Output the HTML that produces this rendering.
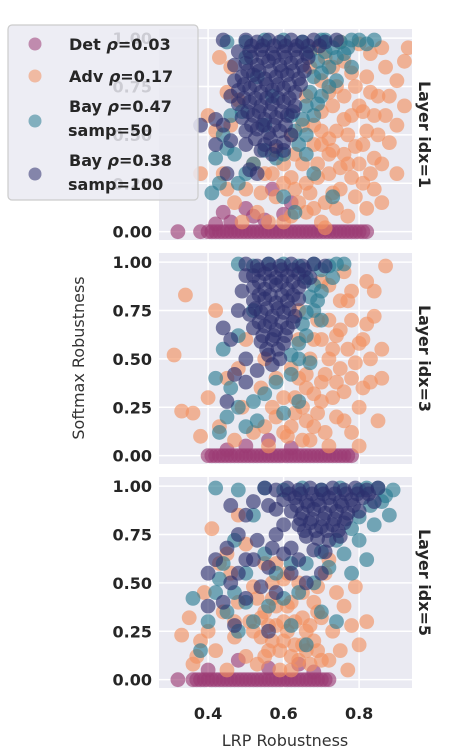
<!DOCTYPE html>
<html><head><meta charset="utf-8">
<style>
html,body{margin:0;padding:0;background:#fff;}
svg{display:block;font-family:"DejaVu Sans","Liberation Sans",sans-serif;}
</style></head>
<body>
<svg id="chart" width="450" height="750" viewBox="0 0 450 750" xmlns="http://www.w3.org/2000/svg">
<defs>
<clipPath id="c0"><rect x="159" y="29" width="253" height="211"/></clipPath>
<clipPath id="c1"><rect x="159" y="253" width="253" height="211"/></clipPath>
<clipPath id="c2"><rect x="159" y="477" width="253" height="211"/></clipPath>
</defs>
<g id="panels"></g>
<text x="285" y="746" font-size="16" text-anchor="middle" fill="#333">LRP Robustness</text>
<text transform="translate(84,358) rotate(-90)" font-size="16" text-anchor="middle" fill="#333">Softmax Robustness</text>
<g id="legend">
<rect x="8" y="25" width="190" height="175" rx="4" fill="#eaeaf2" fill-opacity="0.85" stroke="#cccccc" stroke-width="1.2"/>
<circle cx="35" cy="44" r="6.5" fill="#9b3a74" fill-opacity="0.55"/>
<text x="69" y="50" font-size="16" font-weight="bold" fill="#262626">Det <tspan font-style="italic">ρ</tspan>=0.03</text>
<circle cx="35" cy="76" r="6.5" fill="#f3905f" fill-opacity="0.55"/>
<text x="69" y="82" font-size="16" font-weight="bold" fill="#262626">Adv <tspan font-style="italic">ρ</tspan>=0.17</text>
<circle cx="35" cy="121" r="6.5" fill="#2a7b92" fill-opacity="0.55"/>
<text x="69" y="112" font-size="16" font-weight="bold" fill="#262626">Bay <tspan font-style="italic">ρ</tspan>=0.47</text>
<text x="68" y="136" font-size="16" font-weight="bold" fill="#262626">samp=50</text>
<circle cx="35" cy="174" r="6.5" fill="#2d2f6e" fill-opacity="0.55"/>
<text x="69" y="166" font-size="16" font-weight="bold" fill="#262626">Bay <tspan font-style="italic">ρ</tspan>=0.38</text>
<text x="68" y="190" font-size="16" font-weight="bold" fill="#262626">samp=100</text>
</g>
</svg>
<script>
const panelLabels = ["Layer idx=1","Layer idx=3","Layer idx=5"];
const xTicks = [0.4,0.6,0.8];
const xTickLabels = ["0.4","0.6","0.8"];
const yTicks = [0,0.25,0.5,0.75,1];
const yTickLabels = ["0.00","0.25","0.50","0.75","1.00"];
const seriesNames = ["det","adv","bay50","bay100"];
// Layer 1
const det1 = [0.32,0,0.38,0,0.4,0,0.41,0,0.42,0,0.43,0,0.44,0,0.45,0,0.46,0,0.47,0,0.48,0,0.49,0,0.5,0,0.51,0,0.52,0,0.53,0,0.54,0,0.55,0,0.56,0,0.57,0,0.58,0,0.59,0,0.6,0,0.61,0,0.62,0,0.63,0,0.64,0,0.65,0,0.66,0,0.67,0,0.68,0,0.69,0,0.7,0,0.71,0,0.72,0,0.73,0,0.74,0,0.75,0,0.76,0,0.77,0,0.78,0,0.79,0,0.8,0,0.81,0,0.82,0,0.44,0.1,0.5,0.12,0.52,0.08,0.57,0.22,0.62,0.15,0.46,0.05,0.42,0.04,0.55,0.06,0.6,0.09];
const adv1 = [0.45,0.72,0.48,0.68,0.42,0.52,0.44,0.3,0.47,0.15,0.5,0.22,0.53,0.1,0.55,0.3,0.58,0.18,0.6,0.05,0.62,0.28,0.63,0.4,0.65,0.55,0.66,0.7,0.67,0.85,0.68,0.12,0.69,0.35,0.7,0.62,0.71,0.9,0.72,0.48,0.73,0.2,0.74,0.75,0.75,0.33,0.76,0.58,0.77,0.08,0.78,0.82,0.79,0.44,0.8,0.65,0.81,0.25,0.82,0.52,0.83,0.92,0.84,0.38,0.85,0.7,0.86,0.15,0.87,0.6,0.88,0.46,0.9,0.78,0.92,0.88,0.9,0.55,0.87,0.85,0.64,0.15,0.66,0.25,0.7,0.05,0.72,0.3,0.6,0.35,0.58,0.42,0.56,0.05,0.74,0.12,0.78,0.28,0.82,0.12,0.62,0.5,0.68,0.45,0.76,0.4,0.8,0.35,0.84,0.22,0.86,0.95,0.75,0.98,0.8,0.97,0.7,0.78,0.73,0.65,0.66,0.1,0.52,0.35,0.49,0.05,0.46,0.55,
0.67,0.2,0.69,0.28,0.71,0.15,0.72,0.4,0.74,0.52,0.75,0.22,0.77,0.35,0.78,0.6,0.79,0.18,0.81,0.45,0.83,0.3,0.85,0.5,0.63,0.22,0.65,0.35,0.68,0.55,0.7,0.45,0.73,0.85,0.76,0.7,0.79,0.75,0.82,0.8,0.84,0.6,0.88,0.7,0.9,0.3,0.86,0.35,0.62,0.08,0.71,0.02,0.6,0.25,0.57,0.3,0.54,0.2,0.45,0.22,0.4,0.6,0.43,0.9,0.46,0.85,0.38,0.3,0.7,0.52,0.73,0.42,0.77,0.5,0.81,0.62,0.83,0.72,0.92,0.65,0.93,0.95,0.76,0.88,0.69,0.95,0.72,0.72];
const bay50_1 = [0.45,0.98,0.5,0.98,0.55,0.99,0.6,0.99,0.65,0.98,0.7,0.99,0.75,0.98,0.8,0.99,0.84,0.99,0.72,0.85,0.74,0.78,0.7,0.7,0.68,0.6,0.66,0.5,0.64,0.45,0.6,0.4,0.58,0.38,0.55,0.42,0.52,0.35,0.5,0.3,0.47,0.4,0.44,0.5,0.42,0.38,0.41,0.2,0.43,0.25,0.48,0.25,0.6,0.18,0.63,0.1,0.68,0.3,0.73,0.18,0.78,0.85,0.76,0.92,0.62,0.6,0.57,0.7,0.53,0.8,0.5,0.9,0.49,0.62,0.73,0.95,0.55,0.55,
0.67,0.93,0.69,0.88,0.71,0.93,0.68,0.8,0.7,0.82,0.67,0.72,0.66,0.65,0.69,0.66,0.65,0.58,0.63,0.52,0.71,0.99,0.78,0.99,0.82,0.97,0.74,0.9,0.77,0.95,0.72,0.75,0.66,0.4,0.46,0.6,0.45,0.43];
const bay100_1 = [0.44,0.99,0.5,0.99,0.53,0.98,0.56,0.99,0.59,0.98,0.62,0.99,0.65,0.98,0.68,0.99,0.71,0.98,0.74,0.99,0.51,0.93,0.54,0.94,0.57,0.92,0.6,0.93,0.63,0.94,0.66,0.92,0.5,0.87,0.53,0.86,0.56,0.88,0.59,0.86,0.62,0.87,0.65,0.86,0.49,0.8,0.52,0.81,0.55,0.79,0.58,0.8,0.61,0.81,0.64,0.79,0.48,0.73,0.51,0.74,0.54,0.72,0.57,0.73,0.6,0.74,0.63,0.72,0.48,0.66,0.51,0.67,0.54,0.65,0.57,0.66,0.6,0.67,0.63,0.65,0.49,0.59,0.52,0.6,0.55,0.58,0.58,0.59,0.61,0.6,0.5,0.52,0.53,0.53,0.56,0.51,0.59,0.52,0.62,0.5,0.46,0.47,0.55,0.45,0.6,0.46,0.44,0.55,0.42,0.58,0.51,0.32,0.53,0.3,0.45,0.3,0.42,0.45,0.38,0.55,
0.515,0.96,0.545,0.96,0.575,0.96,0.605,0.96,0.635,0.96,0.665,0.96,0.695,0.96,0.515,0.9,0.545,0.9,0.575,0.9,0.605,0.9,0.635,0.9,0.665,0.9,0.505,0.83,0.535,0.83,0.565,0.83,0.595,0.83,0.625,0.83,0.655,0.83,0.495,0.76,0.525,0.76,0.555,0.76,0.585,0.76,0.615,0.76,0.645,0.76,0.495,0.69,0.525,0.69,0.555,0.69,0.585,0.69,0.615,0.69,0.505,0.62,0.535,0.62,0.565,0.62,0.595,0.62,0.625,0.62,0.515,0.55,0.545,0.55,0.575,0.55,0.605,0.55,0.525,0.48,0.565,0.48,0.6,0.42,0.57,0.4,0.5,0.45,0.47,0.86,0.47,0.78,0.46,0.7,0.48,0.93,0.58,0.44,0.54,0.42];
// Layer 3
const det2 = [0.4,0,0.41,0,0.42,0,0.43,0,0.44,0,0.45,0,0.46,0,0.47,0,0.48,0,0.49,0,0.5,0,0.51,0,0.52,0,0.53,0,0.54,0,0.55,0,0.56,0,0.57,0,0.58,0,0.59,0,0.6,0,0.61,0,0.62,0,0.63,0,0.64,0,0.65,0,0.66,0,0.67,0,0.68,0,0.69,0,0.7,0,0.71,0,0.72,0,0.73,0,0.74,0,0.75,0,0.76,0,0.77,0,0.78,0,0.5,0.05,0.56,0.08,0.62,0.04,0.45,0.03];
const adv2 = [0.31,0.52,0.34,0.83,0.33,0.23,0.36,0.22,0.38,0.1,0.4,0.3,0.42,0.75,0.43,0.15,0.45,0.4,0.47,0.08,0.49,0.25,0.5,0.6,0.52,0.12,0.54,0.35,0.56,0.05,0.58,0.2,0.6,0.3,0.61,0.1,0.62,0.45,0.63,0.22,0.64,0.6,0.65,0.08,0.66,0.35,0.67,0.5,0.68,0.15,0.69,0.7,0.7,0.28,0.71,0.42,0.72,0.05,0.73,0.55,0.74,0.2,0.75,0.65,0.76,0.33,0.77,0.8,0.78,0.12,0.79,0.48,0.8,0.25,0.81,0.6,0.82,0.9,0.83,0.38,0.84,0.72,0.85,0.18,0.86,0.55,0.87,0.98,0.72,0.88,0.76,0.95,0.68,0.6,0.64,0.75,0.7,0.9,0.8,0.05,0.66,0.18,0.58,0.4,0.55,0.5,0.48,0.45,0.74,0.38,0.78,0.7,
0.63,0.3,0.65,0.25,0.66,0.42,0.68,0.32,0.69,0.22,0.7,0.38,0.71,0.12,0.72,0.5,0.73,0.3,0.74,0.62,0.75,0.45,0.76,0.18,0.77,0.55,0.78,0.4,0.8,0.58,0.81,0.35,0.82,0.68,0.83,0.5,0.67,0.08,0.64,0.4,0.62,0.15,0.7,0.6,0.72,0.7,0.75,0.8,0.78,0.85,0.84,0.85,0.86,0.4,0.57,0.25,0.55,0.15,0.6,0.12];
const bay50_2 = [0.48,0.99,0.52,0.98,0.56,0.99,0.6,0.99,0.64,0.98,0.68,0.99,0.72,0.98,0.76,0.99,0.7,0.85,0.68,0.75,0.66,0.62,0.64,0.5,0.62,0.42,0.58,0.38,0.55,0.32,0.52,0.28,0.48,0.25,0.45,0.2,0.43,0.12,0.42,0.4,0.44,0.55,0.46,0.35,0.5,0.15,0.53,0.18,0.6,0.22,0.64,0.28,0.67,0.48,0.7,0.7,0.48,0.62,0.52,0.75,0.73,0.92,
0.66,0.92,0.68,0.88,0.67,0.82,0.66,0.74,0.65,0.68,0.64,0.58,0.62,0.52,0.7,0.96,0.74,0.99,0.69,0.8];
const bay100_2 = [0.5,0.99,0.53,0.98,0.56,0.99,0.59,0.98,0.62,0.99,0.65,0.98,0.68,0.99,0.71,0.98,0.52,0.93,0.55,0.94,0.58,0.92,0.61,0.93,0.64,0.94,0.67,0.92,0.52,0.87,0.55,0.86,0.58,0.88,0.61,0.86,0.64,0.87,0.52,0.8,0.55,0.81,0.58,0.79,0.61,0.8,0.64,0.81,0.51,0.73,0.54,0.74,0.57,0.72,0.6,0.74,0.63,0.72,0.52,0.66,0.55,0.67,0.58,0.65,0.61,0.66,0.54,0.59,0.57,0.6,0.6,0.58,0.56,0.52,0.59,0.5,0.48,0.75,0.46,0.6,0.5,0.5,0.47,0.42,0.53,0.44,0.44,0.66,0.45,0.28,0.5,0.38,
0.535,0.96,0.565,0.96,0.595,0.96,0.625,0.96,0.655,0.96,0.535,0.9,0.565,0.9,0.595,0.9,0.625,0.9,0.655,0.9,0.535,0.83,0.565,0.83,0.595,0.83,0.625,0.83,0.525,0.76,0.555,0.76,0.585,0.76,0.615,0.76,0.535,0.69,0.565,0.69,0.595,0.69,0.625,0.69,0.545,0.62,0.575,0.62,0.605,0.62,0.555,0.55,0.585,0.55,0.57,0.47,0.5,0.93,0.49,0.85];
// Layer 5
const det3 = [0.32,0,0.36,0,0.37,0,0.38,0,0.39,0,0.4,0,0.41,0,0.42,0,0.43,0,0.44,0,0.45,0,0.46,0,0.47,0,0.48,0,0.49,0,0.5,0,0.51,0,0.52,0,0.53,0,0.54,0,0.55,0,0.56,0,0.57,0,0.58,0,0.59,0,0.6,0,0.61,0,0.62,0,0.63,0,0.64,0,0.65,0,0.66,0,0.67,0,0.68,0,0.69,0,0.7,0,0.71,0,0.72,0,0.4,0.05,0.48,0.1,0.56,0.06,0.64,0.08,0.68,0.04];
const adv3 = [0.33,0.23,0.35,0.32,0.37,0.12,0.39,0.45,0.4,0.25,0.41,0.78,0.42,0.15,0.44,0.35,0.45,0.05,0.46,0.55,0.47,0.22,0.48,0.4,0.5,0.12,0.51,0.3,0.52,0.48,0.53,0.08,0.54,0.22,0.55,0.35,0.56,0.15,0.57,0.42,0.58,0.28,0.59,0.05,0.6,0.2,0.61,0.38,0.62,0.12,0.63,0.3,0.64,0.5,0.65,0.18,0.66,0.25,0.67,0.08,0.68,0.4,0.69,0.15,0.7,0.32,0.71,0.55,0.72,0.1,0.73,0.25,0.74,0.45,0.75,0.15,0.76,0.38,0.77,0.05,0.78,0.28,0.79,0.48,0.8,0.18,0.82,0.3,0.5,0.7,0.55,0.6,0.6,0.52,0.48,0.85,0.45,0.65,0.62,0.05,0.58,0.6,0.72,0.62,
0.52,0.25,0.54,0.32,0.55,0.12,0.56,0.28,0.57,0.2,0.58,0.38,0.59,0.15,0.6,0.3,0.61,0.25,0.62,0.4,0.63,0.18,0.64,0.1,0.65,0.32,0.66,0.15,0.67,0.28,0.68,0.2,0.69,0.35,0.7,0.1,0.53,0.42,0.57,0.5,0.61,0.55,0.65,0.45,0.69,0.48,0.47,0.3,0.43,0.6,0.38,0.2,0.36,0.08];
const bay50_3 = [0.42,0.99,0.48,0.98,0.55,0.99,0.6,0.98,0.65,0.99,0.7,0.98,0.75,0.99,0.8,0.98,0.85,0.99,0.89,0.98,0.88,0.85,0.84,0.8,0.8,0.72,0.76,0.65,0.72,0.58,0.68,0.5,0.64,0.45,0.6,0.42,0.56,0.38,0.52,0.3,0.48,0.25,0.45,0.35,0.42,0.45,0.4,0.3,0.38,0.15,0.36,0.42,0.44,0.6,0.5,0.55,0.55,0.65,0.62,0.28,0.66,0.18,0.7,0.35,0.74,0.3,0.78,0.55,0.82,0.62,0.47,0.72,0.52,0.85,
0.86,0.92,0.83,0.9,0.8,0.84,0.78,0.78,0.74,0.72,0.7,0.66,0.66,0.6,0.62,0.6,0.58,0.55,0.47,0.45,0.43,0.52,0.5,0.4,0.82,0.99,0.87,0.95];
const bay100_3 = [0.55,0.99,0.58,0.98,0.61,0.99,0.64,0.98,0.67,0.99,0.7,0.98,0.73,0.99,0.76,0.98,0.79,0.99,0.82,0.98,0.85,0.99,0.6,0.93,0.63,0.94,0.66,0.92,0.69,0.93,0.72,0.94,0.75,0.92,0.78,0.93,0.81,0.94,0.84,0.92,0.62,0.87,0.65,0.86,0.68,0.88,0.71,0.86,0.74,0.87,0.77,0.86,0.8,0.87,0.64,0.8,0.67,0.81,0.7,0.79,0.73,0.8,0.76,0.81,0.66,0.74,0.69,0.73,0.72,0.72,0.75,0.74,0.68,0.67,0.71,0.66,0.5,0.85,0.48,0.75,0.45,0.68,0.42,0.62,0.4,0.55,0.46,0.5,0.5,0.62,0.53,0.72,0.56,0.58,0.58,0.75,0.6,0.65,0.62,0.55,0.64,0.62,0.5,0.42,0.54,0.48,0.58,0.45,0.44,0.4,0.4,0.38,0.47,0.28,0.56,0.25,0.62,0.68,0.66,0.5,0.7,0.55,0.52,0.92,0.46,0.9,
0.615,0.96,0.645,0.96,0.675,0.96,0.705,0.96,0.735,0.96,0.765,0.96,0.795,0.96,0.825,0.96,0.635,0.9,0.665,0.9,0.695,0.9,0.725,0.9,0.755,0.9,0.785,0.9,0.645,0.83,0.675,0.83,0.705,0.83,0.735,0.83,0.765,0.83,0.655,0.77,0.685,0.77,0.715,0.77,0.745,0.77,0.58,0.88,0.6,0.8,0.56,0.9,0.57,0.68,0.52,0.62,0.48,0.55];

const panelData = [[det1,adv1,bay50_1,bay100_1],[det2,adv2,bay50_2,bay100_2],[det3,adv3,bay50_3,bay100_3]];
const colors = ["#9b3a74","#f3905f","#2a7b92","#2d2f6e"];
const NS = "http://www.w3.org/2000/svg";
const X0=159, W=253, H=211, tops=[29,253,477];
const xMin=0.27, xMax=0.94, yMin=-0.043, yMax=1.047;
function xScale(v){return X0 + (v-xMin)/(xMax-xMin)*W;}
function yScale(v,top){return top + H - (v-yMin)/(yMax-yMin)*H;}
function mk(tag,attrs){const e=document.createElementNS(NS,tag);for(const k in attrs)e.setAttribute(k,attrs[k]);return e;}
const root=document.getElementById('panels');
panelData.forEach((series,pi)=>{
  const top=tops[pi];
  const g=mk('g',{});
  
  
  const bg=mk('rect',{x:X0,y:top,width:W,height:H,fill:'#eaeaf2'});
  
  
  g.appendChild(bg);
  xTicks.forEach((t,i)=>{
    const l=mk('line',{x1:xScale(t),x2:xScale(t),y1:top,y2:top+H,stroke:'#fff','stroke-width':1.5});
    
    
    g.appendChild(l);
  });
  yTicks.forEach((t,i)=>{
    const y=yScale(t,top);
    const l=mk('line',{x1:X0,x2:X0+W,y1:y,y2:y,stroke:'#fff','stroke-width':1.5});
    
    
    g.appendChild(l);
    const tx=mk('text',{x:152,y:y+6,'font-size':16,'font-weight':'bold','text-anchor':'end',fill:'#262626'});
    
    
    tx.textContent=yTickLabels[i];
    g.appendChild(tx);
  });
  const pts=mk('g',{'clip-path':'url(#c'+pi+')'});
  series.forEach((arr,si)=>{
    for(let k=0;k<arr.length;k+=2){
      const c=mk('circle',{cx:xScale(arr[k]),cy:yScale(arr[k+1],top),r:7.4,fill:colors[si],'fill-opacity':0.63});
      
      
      pts.appendChild(c);
    }
  });
  g.appendChild(pts);
  const cy=top+H/2;
  const lab=mk('text',{transform:'translate(419,'+cy+') rotate(90)','font-size':16,'font-weight':'bold','text-anchor':'middle',fill:'#262626'});
  
  
  lab.textContent=panelLabels[pi];
  g.appendChild(lab);
  root.appendChild(g);
});
xTicks.forEach((t,i)=>{
  const tx=mk('text',{x:xScale(t),y:719,'font-size':16,'font-weight':'bold','text-anchor':'middle',fill:'#262626'});
  
  
  tx.textContent=xTickLabels[i];
  root.appendChild(tx);
});
</script>
</body></html>
